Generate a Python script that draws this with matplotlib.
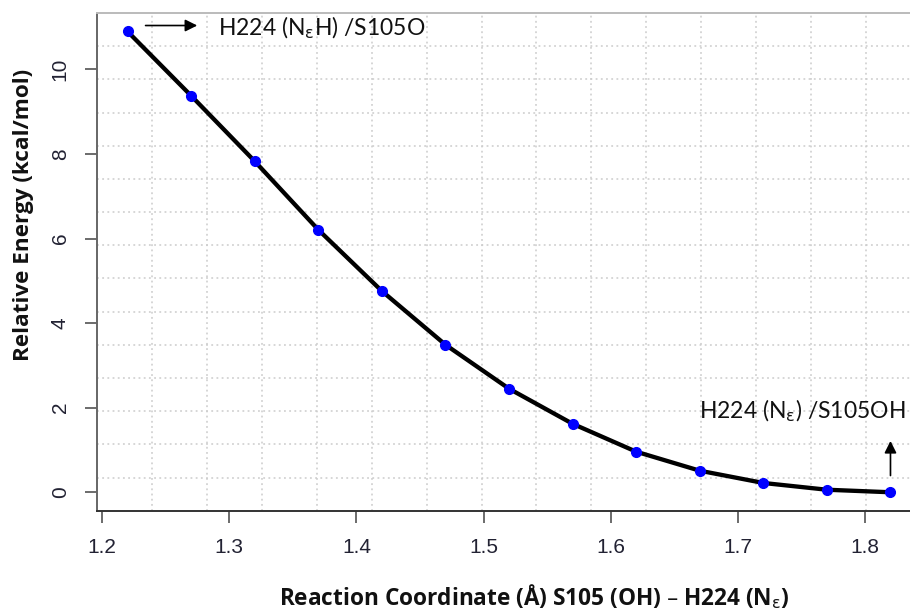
import matplotlib
matplotlib.use("Agg")
import matplotlib.pyplot as plt
import numpy as np

# Reaction coordinate (Angstrom) and relative energy (kcal/mol)
coord = [1.22, 1.27, 1.32, 1.37, 1.42, 1.47, 1.52, 1.57, 1.62, 1.67, 1.72, 1.77, 1.82]
energy = [10.90, 9.38, 7.83, 6.21, 4.76, 3.49, 2.45, 1.62, 0.96, 0.51, 0.22, 0.06, 0.00]

x_ticks = [1.2, 1.3, 1.4, 1.5, 1.6, 1.7, 1.8]
y_ticks = [0, 2, 4, 6, 8, 10]

eps = r"$_{\mathrm{\varepsilon}}$"
x_label = "Reaction Coordinate (Å) S105 (OH) – H224 (N" + eps + ")"
y_label = "Relative Energy (kcal/mol)"
top_note = "H224 (N" + eps + "H) /S105O"
end_note = "H224 (N" + eps + ") /S105OH"

W, H = 910, 612
fig = plt.figure(figsize=(W / 100, H / 100), dpi=100)
# box runs past the right edge of the picture, as in the original
ax = fig.add_axes([97 / W, (H - 510.7) / H, 824 / W, 497.7 / H])

ax.plot(coord, energy, color="black", lw=3.1, zorder=3)
ax.plot(coord, energy, "o", color="#0000ff", ms=7, mec="#0000ff", zorder=4)

# R style range padding (4 %)
xr = max(coord) - min(coord)
yr = max(energy) - min(energy)
ax.set_xlim(min(coord) - 0.04 * xr, max(coord) + 0.04 * xr)
ax.set_ylim(min(energy) - 0.04 * yr, max(energy) + 0.04 * yr)

# dotted grid that splits the box in 15 equal cells each way
fr = np.linspace(0, 1, 16)[1:-1]
ax.vlines(fr, 0, 1, transform=ax.transAxes, colors="#cccccc", lw=1.1,
          linestyles=(0, (1.2, 2.2)), zorder=1)
ax.hlines(fr, 0, 1, transform=ax.transAxes, colors="#cccccc", lw=1.1,
          linestyles=(0, (1.2, 2.2)), zorder=1)

ax.set_xticks(x_ticks)
ax.set_xticklabels([f"{v:.1f}" for v in x_ticks])
ax.set_yticks(y_ticks)
ax.set_yticklabels([str(v) for v in y_ticks], rotation=90, va="center")
ax.tick_params(axis="both", length=8.6, width=1.1, color="#444444",
               labelsize=15, labelcolor="#222233", pad=11)
for lab in ax.get_xticklabels() + ax.get_yticklabels():
    lab.set_family("Liberation Sans")

ax.spines["left"].set_color("#666666")
ax.spines["left"].set_linewidth(1.4)
ax.spines["bottom"].set_color("#333333")
ax.spines["bottom"].set_linewidth(1.4)
ax.spines["top"].set_color("#bbbbbb")
ax.spines["top"].set_linewidth(1.4)
ax.spines["right"].set_visible(False)

fig.text(534 / W, 1 - 597 / H, x_label, ha="center", va="center",
         fontsize=16.3, fontweight="bold", family="Open Sans", color="#111111")
fig.text(24 / W, 1 - 215 / H, y_label, ha="center", va="center", rotation=90,
         fontsize=16.2, fontweight="bold", family="Open Sans", color="#111111")

# arrow and label at the reactant end
ax.annotate("", xy=(coord[0] + 0.057, energy[0] + 0.14),
            xytext=(coord[0] + 0.012, energy[0] + 0.14),
            arrowprops=dict(arrowstyle="-|>", color="black", lw=1.2,
                            mutation_scale=18))
ax.text(coord[0] + 0.071, energy[0] + 0.08, top_note, ha="left", va="center",
        fontsize=16.5, family="Lato", color="#111111")

# arrow and label at the product end
ax.annotate("", xy=(coord[-1], energy[-1] + 1.28),
            xytext=(coord[-1], energy[-1] + 0.33),
            arrowprops=dict(arrowstyle="-|>", color="black", lw=1.2,
                            mutation_scale=18))
ax.text(coord[-1] + 0.012, energy[-1] + 1.92, end_note, ha="right", va="center",
        fontsize=16.5, family="Lato", color="#111111")

fig.savefig("out.png", dpi=100)
